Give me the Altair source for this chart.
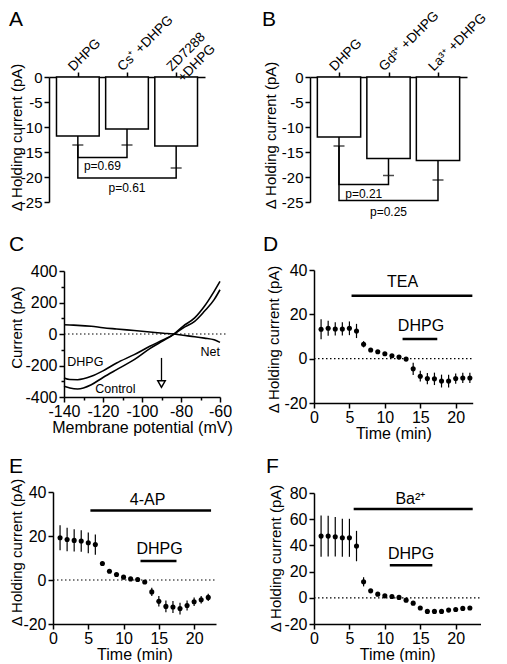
import altair as alt
import pandas as pd

FONT = "Liberation Sans, Arial, Helvetica, sans-serif"
INK = "#000000"

# ---------------- Panel A ----------------
a_labels = ["DHPG", "Cs⁺ +DHPG", "ZD7288\n+DHPG"]
a_mean = [-11.8, -10.4, -13.8]
a_sem = [1.8, 3.2, 4.4]
a_pairs = [[0, 1], [0, 2]]
a_bracket_y = [-16.1, -20.2]
a_p_text = ["p=0.69", "p=0.61"]
a_p_y = [-17.8, -22.1]

# ---------------- Panel B ----------------
b_labels = ["DHPG", "Gd³⁺ +DHPG", "La³⁺ +DHPG"]
b_mean = [-12.0, -16.3, -16.7]
b_sem = [1.8, 3.4, 3.9]
b_pairs = [[0, 1], [0, 2]]
b_bracket_y = [-21.5, -24.7]
b_p_text = ["p=0.21", "p=0.25"]
b_p_y = [-23.3, -26.9]

# ---------------- Panel C ----------------
c_mv = [-140, -137, -133, -126, -120, -113, -104, -96, -89, -84, -79, -73, -68, -63, -60]
c_control = [-332, -343, -349, -322, -276, -226, -163, -93, -42, -4, 49, 102, 176, 271, 334]
c_dhpg = [-279, -289, -290, -269, -234, -184, -131, -78, -36, -4, 38, 80, 144, 218, 281]
c_net = [59, 57, 55, 49, 40, 32, 22, 13, 5, 0, -8, -17, -26, -37, -53]
c_text = ["DHPG", "Control", "Net"]
c_text_x = [-138.3, -124.0, -60.0]
c_text_y = [-180, -349, -114]
c_text_align = ["left", "left", "right"]
c_arrow_mv = -90
c_arrow_top = -152
c_arrow_tip = -318

# ---------------- Panels D, E, F ----------------
time_min = list(range(1, 23))

d_mean = [13.3, 13.7, 13.4, 13.4, 13.7, 12.5, 6.5, 3.9, 3.1, 2.2, 1.3, 0.7, -0.2,
          -4.6, -7.9, -9.0, -9.1, -10.1, -10.1, -9.0, -8.7, -8.7]
d_err = [4.5, 3.4, 3.0, 3.0, 3.1, 3.2, 1.4, 0.8, 0.6, 0.5, 0.5, 0.5, 0.6,
         2.8, 2.4, 2.5, 2.8, 2.9, 2.9, 2.3, 2.3, 2.3]
d_bar_start = [5.3, 12.5]
d_bar_end = [22.35, 17.4]
d_bar_y = [28.4, 8.9]
d_label = ["TEA", "DHPG"]
d_label_x = [12.5, 15.1]
d_label_y = [34.4, 14.6]

e_mean = [19.2, 18.4, 18.0, 17.7, 16.9, 16.1, 7.5, 4.0, 2.5, 1.3, 0.5, 0.2, -0.9,
          -5.4, -9.7, -12.0, -12.3, -13.0, -11.6, -9.9, -9.0, -7.9]
e_err = [5.7, 5.3, 5.1, 4.9, 4.7, 4.6, 0.8, 0.6, 0.5, 0.5, 0.5, 0.5, 0.6,
         1.9, 2.4, 2.7, 2.7, 2.7, 2.3, 1.9, 1.7, 1.7]
e_bar_start = [5.3, 12.4]
e_bar_end = [22.4, 17.5]
e_bar_y = [31.6, 8.6]
e_label = ["4-AP", "DHPG"]
e_label_x = [13.4, 15.1]
e_label_y = [36.4, 14.0]

f_mean = [47.1, 47.1, 46.6, 45.8, 45.8, 39.5, 12.2, 5.3, 2.8, 1.5, 1.0, 0.3, -1.8,
          -4.1, -7.8, -10.4, -10.4, -10.4, -9.4, -8.9, -8.1, -7.8]
f_err = [15.8, 15.6, 15.0, 14.5, 14.5, 11.6, 3.5, 1.2, 1.0, 0.8, 0.8, 0.8, 0.8,
         1.2, 1.0, 1.0, 1.0, 1.0, 1.0, 1.0, 1.0, 1.0]
f_bar_start = [5.6, 10.7]
f_bar_end = [22.4, 16.7]
f_bar_y = [67.8, 24.8]
f_label = ["Ba²⁺", "DHPG"]
f_label_x = [13.6, 13.7]
f_label_y = [75.7, 33.7]

YTITLE = "Δ Holding current (pA)"
NUM_LABEL = "datum.value + ''"
XLAB = dict(labelFontSize=16, titleFontSize=16, labelPadding=1, titlePadding=0)


def letter_layer(letter, x, y):
    return alt.Chart(pd.DataFrame({"t": [letter]})).mark_text(
        fontSize=21, align="left", baseline="top", color=INK
    ).encode(x=alt.value(x), y=alt.value(y), text="t:N")


def bar_panel(labels, mean, sem, pairs, bracket_y, p_text, p_y, width, height,
              bar_size, letter, letter_x, title_x, title_y):
    idx = list(range(len(labels)))
    lo = [m - s for m, s in zip(mean, sem)]
    bars = pd.DataFrame({"idx": idx, "mean": mean, "lo": lo, "label": labels})
    rows = []
    for b, (i, j) in enumerate(pairs):
        pts = [(i, lo[i]), (i, bracket_y[b]), (j, bracket_y[b]), (j, lo[j])]
        for k, (xx, yy) in enumerate(pts):
            rows.append({"bid": b, "k": k, "bx": xx, "by": yy})
    br = pd.DataFrame(rows)
    pt = pd.DataFrame({"px": [(i + j) / 2 for i, j in pairs], "py": p_y, "p": p_text})

    xs = alt.Scale(domain=[-0.485, 2.485], nice=False, zero=False)
    ys = alt.Scale(domain=[-25, 0], nice=False, zero=False)
    xa = alt.Axis(orient="top", values=idx, labels=False, ticks=True, tickSize=5,
                  title=None, domain=True, grid=False)
    ya = alt.Axis(values=[-25, -20, -15, -10, -5, 0], labelExpr=NUM_LABEL,
                  title=YTITLE, titleX=title_x, titleY=title_y, titleAngle=270,
                  titleAlign="center", titleBaseline="top")

    def X(f):
        return alt.X(f, scale=xs, axis=xa)

    def Y(f):
        return alt.Y(f, scale=ys, axis=ya)

    base = alt.Chart(bars)
    bar = base.mark_bar(size=bar_size, fill="white", stroke=INK, strokeWidth=1.5).encode(
        x=X("idx:Q"), y=Y("mean:Q"), y2=alt.datum(0))
    err = base.mark_rule(color=INK, strokeWidth=1.5).encode(
        x=X("idx:Q"), y=Y("mean:Q"), y2="lo:Q")
    cap = base.mark_tick(orient="horizontal", size=11, thickness=1.5, color=INK).encode(
        x=X("idx:Q"), y=Y("lo:Q"))
    lines = alt.Chart(br).mark_line(color=INK, strokeWidth=1.5).encode(
        x=X("bx:Q"), y=Y("by:Q"), detail="bid:N", order="k:Q")
    ptxt = alt.Chart(pt).mark_text(fontSize=12, color=INK).encode(
        x=X("px:Q"), y=Y("py:Q"), text="p:N")
    lab = base.mark_text(angle=315, align="left", baseline="middle", fontSize=13.5,
                         lineBreak="\n", dy=-10, color=INK).encode(
        x=X("idx:Q"), y=alt.value(-1), text="label:N")
    return alt.layer(bar, err, cap, lines, ptxt, lab,
                     letter_layer(letter, letter_x, -68)).properties(width=width, height=height)


def c_panel():
    xs = alt.Scale(domain=[-140, -60], range=[15, 171], nice=False, zero=False)
    ys = alt.Scale(domain=[-400, 400], range=[127, 1], nice=False, zero=False)
    xa = alt.Axis(values=list(range(-140, -59, 10)),
                  labelExpr="datum.value % 20 === 0 ? datum.value + '' : ''",
                  tickSize={"condition": {"test": "datum.value % 20 === 0", "value": 5}, "value": 3},
                  title="Membrane potential (mV)", **XLAB)
    ya = alt.Axis(values=list(range(-400, 401, 100)), offset=-15, labelFontSize=16,
                  labelExpr="datum.value % 200 === 0 ? datum.value + '' : ''",
                  tickSize={"condition": {"test": "datum.value % 200 === 0", "value": 5}, "value": 3},
                  title="Current (pA)", titleX=-55, titleY=57, titleAngle=270,
                  titleAlign="center", titleBaseline="top")

    def X(f):
        return alt.X(f, scale=xs, axis=xa)

    def Y(f):
        return alt.Y(f, scale=ys, axis=ya)

    curves = pd.DataFrame({
        "mv": c_mv * 3,
        "pa": c_control + c_dhpg + c_net,
        "s": ["Control"] * len(c_mv) + ["DHPG"] * len(c_mv) + ["Net"] * len(c_mv),
    })
    zero = alt.Chart(pd.DataFrame({"a": [-140], "b": [-57], "y": [0]})).mark_rule(
        color=INK, strokeWidth=1.2, strokeDash=[1.5, 2.5]).encode(
        x=X("a:Q"), x2="b:Q", y=Y("y:Q"))
    lines = alt.Chart(curves).mark_line(color=INK, strokeWidth=1.6, interpolate="monotone").encode(
        x=X("mv:Q"), y=Y("pa:Q"), detail="s:N")
    tdf = pd.DataFrame({"x": c_text_x, "y": c_text_y, "t": c_text, "al": c_text_align})
    tl = alt.Chart(tdf[tdf.al == "left"]).mark_text(fontSize=12.5, align="left", color=INK).encode(
        x=X("x:Q"), y=Y("y:Q"), text="t:N")
    tr = alt.Chart(tdf[tdf.al == "right"]).mark_text(fontSize=12.5, align="right", color=INK).encode(
        x=X("x:Q"), y=Y("y:Q"), text="t:N")
    adf = pd.DataFrame({"x": [c_arrow_mv], "y1": [c_arrow_top], "y2": [c_arrow_tip + 25],
                        "tip": [c_arrow_tip]})
    arrow = alt.Chart(adf).mark_rule(color=INK, strokeWidth=1.3).encode(
        x=X("x:Q"), y=Y("y1:Q"), y2="y2:Q")
    head = alt.Chart(adf).mark_point(shape="triangle-down", size=55, filled=False, color=INK,
                                     strokeWidth=1.5, opacity=1).encode(
        x=X("x:Q"), y=Y("tip:Q"))
    return alt.layer(zero, lines, tl, tr, arrow, head,
                     letter_layer("C", -40, -36)).properties(width=172, height=127)


def time_panel(mean, err, xmax, xrange, ydom, yvals, yrange, width, height,
               bar_start, bar_end, bar_y, label, label_x, label_y, letter, letter_x, letter_y,
               axis_off, title_x, title_y):
    xs = alt.Scale(domain=[0, xmax], range=xrange, nice=False, zero=False)
    ys = alt.Scale(domain=ydom, range=yrange, nice=False, zero=False)
    xa = alt.Axis(values=[0, 5, 10, 15, 20], title="Time (min)", labelExpr=NUM_LABEL, **XLAB)
    ya = alt.Axis(values=yvals, labelExpr=NUM_LABEL, offset=axis_off, labelFontSize=16,
                  title=YTITLE, titleX=title_x, titleY=title_y, titleAngle=270,
                  titleAlign="center", titleBaseline="top")

    def X(f):
        return alt.X(f, scale=xs, axis=xa)

    def Y(f):
        return alt.Y(f, scale=ys, axis=ya)

    df = pd.DataFrame({"t": time_min, "m": mean,
                       "lo": [m - e for m, e in zip(mean, err)],
                       "hi": [m + e for m, e in zip(mean, err)]})
    zero = alt.Chart(pd.DataFrame({"a": [0], "b": [xmax], "y": [0]})).mark_rule(
        color=INK, strokeWidth=1.2, strokeDash=[1.5, 2.5]).encode(
        x=X("a:Q"), x2="b:Q", y=Y("y:Q"))
    ebar = alt.Chart(df).mark_rule(color=INK, strokeWidth=1.2).encode(
        x=X("t:Q"), y=Y("lo:Q"), y2="hi:Q")
    dots = alt.Chart(df).mark_circle(size=26, color=INK, opacity=1).encode(
        x=X("t:Q"), y=Y("m:Q"))
    bdf = pd.DataFrame({"a": bar_start, "b": bar_end, "y": bar_y})
    bars = alt.Chart(bdf).mark_rule(color=INK, strokeWidth=2.5).encode(
        x=X("a:Q"), x2="b:Q", y=Y("y:Q"))
    ldf = pd.DataFrame({"x": label_x, "y": label_y, "t": label})
    labs = alt.Chart(ldf).mark_text(fontSize=16, color=INK).encode(
        x=X("x:Q"), y=Y("y:Q"), text="t:N")
    return alt.layer(zero, ebar, dots, bars, labs,
                     letter_layer(letter, letter_x, letter_y)).properties(width=width, height=height)


pA = bar_panel(a_labels, a_mean, a_sem, a_pairs, a_bracket_y, a_p_text, a_p_y,
               156, 125, 42.7, "A", -40, -40, 60)
pB = bar_panel(b_labels, b_mean, b_sem, b_pairs, b_bracket_y, b_p_text, b_p_y,
               157, 125, 43.3, "B", -48, -47, 58)
pC = c_panel()
pD = time_panel(d_mean, d_err, 22.4, [4, 162.7], [-20, 40], [-20, 0, 20, 40], [133, 0], 163, 133,
                d_bar_start, d_bar_end, d_bar_y, d_label, d_label_x, d_label_y, "D", -47, -36,
                -4, -48, 69)
pE = time_panel(e_mean, e_err, 23.1, [4, 167], [-20, 40], [-20, 0, 20, 40], [153, 21], 167, 153,
                e_bar_start, e_bar_end, e_bar_y, e_label, e_label_x, e_label_y, "E", -40, -15,
                -4, -44, 81)
pF = time_panel(f_mean, f_err, 23.5, [4, 170.5], [-20, 80], [-20, 0, 20, 40, 60, 80], [153, 22],
                171, 153, f_bar_start, f_bar_end, f_bar_y, f_label, f_label_x, f_label_y,
                "F", -44, -15, -4, -46, 87)

chart = alt.concat(
    pA, pB, pC, pD, pE, pF, columns=2,
    spacing={"row": 68, "column": 89}, bounds="flush", align="each",
).properties(padding=0).configure(font=FONT).configure_view(stroke=None).configure_axis(
    domainColor=INK, tickColor=INK, labelColor=INK, titleColor=INK,
    labelFontSize=15, titleFontSize=15, titleFontWeight="normal",
    domainWidth=1.5, tickWidth=1.5, grid=False, labelFlush=False,
    labelOverlap=False, labelPadding=2, tickSize=5, labelFont=FONT, titleFont=FONT,
)

chart.save("out.html", embed_options={"renderer": "svg", "actions": False})
